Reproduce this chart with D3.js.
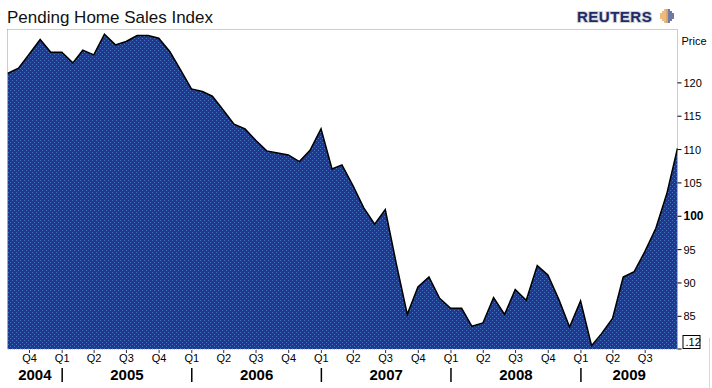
<!DOCTYPE html>
<html lang="en">
<head>
<meta charset="UTF-8">
<title>Pending Home Sales Index</title>
<script src="https://cdn.jsdelivr.net/npm/d3@7"></script>
<style>
  body { margin: 0; background: #fff; }
  svg { display: block; font-family: "Liberation Sans", Arial, sans-serif; }
</style>
</head>
<body>
<div id="chart"></div>
<script>
// monthly index, Jul 2004 .. Sep 2009
const months = [
  "2004-07","2004-08","2004-09","2004-10","2004-11","2004-12",
  "2005-01","2005-02","2005-03","2005-04","2005-05","2005-06","2005-07","2005-08","2005-09","2005-10","2005-11","2005-12",
  "2006-01","2006-02","2006-03","2006-04","2006-05","2006-06","2006-07","2006-08","2006-09","2006-10","2006-11","2006-12",
  "2007-01","2007-02","2007-03","2007-04","2007-05","2007-06","2007-07","2007-08","2007-09","2007-10","2007-11","2007-12",
  "2008-01","2008-02","2008-03","2008-04","2008-05","2008-06","2008-07","2008-08","2008-09","2008-10","2008-11","2008-12",
  "2009-01","2009-02","2009-03","2009-04","2009-05","2009-06","2009-07","2009-08","2009-09"
]
const values = [
  121.4, 122.2, 124.3, 126.5, 124.6, 124.6,
  123.0, 124.9, 124.2, 127.3, 125.7, 126.2, 127.1, 127.1, 126.7, 124.7, 122.0, 119.1,
  118.7, 118.0, 115.9, 113.8, 113.1, 111.4, 109.8, 109.5, 109.2, 108.2, 109.9, 113.1,
  107.1, 107.7, 104.6, 101.3, 98.8, 101.0, 92.9, 85.3, 89.4, 90.9, 87.7, 86.2,
  86.2, 83.5, 84.0, 87.8, 85.3, 89.0, 87.4, 92.6, 91.2, 87.5, 83.4, 87.3,
  80.6, 82.4, 84.7, 90.9, 91.7, 94.7, 98.2, 103.4, 110.2
]
const yTicks = [85, 90, 95, 100, 105, 110, 115, 120]
const quarterTicks = ["2004-10","2005-01","2005-04","2005-07","2005-10","2006-01","2006-04","2006-07","2006-10",
  "2007-01","2007-04","2007-07","2007-10","2008-01","2008-04","2008-07","2008-10","2009-01","2009-04","2009-07"]
const years = ["2004","2005","2006","2007","2008","2009"]
const lastLabel = ".12"

const w = 712, h = 388
const padL = 7.5, padR = 677.5, padT = 29.5, padB = 349

const parse = d3.timeParse("%Y-%m")
// points sit at the end of their month
const monthEnd = s => d3.timeDay.offset(d3.timeMonth.offset(parse(s), 1), -1)
const data = months.map((m, i) => ({ date: monthEnd(m), value: values[i] }))

const x = d3.scaleTime()
  .domain([monthEnd(months[0]), monthEnd(months[months.length - 1])])
  .range([padL, padR])
const y = d3.scaleLinear().domain([80.1, 128]).range([padB, padT])

const svg = d3.select("#chart").append("svg").attr("width", w).attr("height", h)

const defs = svg.append("defs")
const pat = defs.append("pattern").attr("id", "dots")
  .attr("width", 4).attr("height", 4).attr("patternUnits", "userSpaceOnUse")
pat.append("rect").attr("width", 4).attr("height", 4).attr("fill", "#2c3191")
pat.append("rect").attr("x", 0).attr("y", 0).attr("width", 1).attr("height", 1).attr("fill", "#3f7ab8")
pat.append("rect").attr("x", 2).attr("y", 2).attr("width", 1).attr("height", 1).attr("fill", "#3f7ab8")
defs.append("clipPath").attr("id", "plot")
  .append("rect").attr("x", padL).attr("y", padT).attr("width", padR - padL).attr("height", padB - padT)

// title + logo
svg.append("text").attr("x", 7).attr("y", 23)
  .style("font-size", "17px").attr("fill", "#111").text("Pending Home Sales Index")

svg.append("text").attr("x", 577).attr("y", 22)
  .style("font-size", "15px").style("font-weight", "bold").style("letter-spacing", "0.5px")
  .attr("fill", "#1d2b6b").attr("stroke", "#d4d4d4").attr("stroke-width", 2)
  .style("paint-order", "stroke").text("REUTERS")
const globe = svg.append("g").attr("transform", "translate(667,16)")
for (let gx = -6; gx <= 6; gx += 2) {
  for (let gy = -6; gy <= 6; gy += 2) {
    if (gx * gx + gy * gy > 40) continue
    globe.append("circle").attr("cx", gx).attr("cy", gy).attr("r", 0.9)
      .attr("fill", gx < 0 ? "#e69a3c" : (gx === 0 ? "#c77a2a" : "#2a3a7a"))
  }
}

// frame
svg.append("rect").attr("x", padL).attr("y", padT).attr("width", padR - padL).attr("height", padB - padT)
  .attr("fill", "none").attr("stroke", "#9a9a9a").attr("stroke-dasharray", "1,1")

// area + line
const g = svg.append("g").attr("clip-path", "url(#plot)")
g.append("path").datum(data)
  .attr("d", d3.area().x(d => x(d.date)).y0(padB).y1(d => y(d.value)))
  .attr("fill", "url(#dots)")
g.append("path").datum(data)
  .attr("d", d3.line().x(d => x(d.date)).y(d => y(d.value)))
  .attr("fill", "none").attr("stroke", "#000").attr("stroke-width", 1.5)

// right axis
const yAxis = svg.append("g").attr("transform", `translate(${padR},0)`)
yAxis.selectAll("line").data(yTicks).enter().append("line")
  .attr("x1", 0).attr("x2", 4).attr("y1", d => y(d)).attr("y2", d => y(d))
  .attr("stroke", "#000")
yAxis.selectAll("text").data(yTicks).enter().append("text")
  .attr("x", 6).attr("y", d => y(d) + 4)
  .style("font-size", d => d === 100 ? "12px" : "11px")
  .style("font-weight", d => d === 100 ? "bold" : "normal")
  .text(d => d)
yAxis.append("text").attr("x", 4).attr("y", 45).style("font-size", "11px").text("Price")
yAxis.append("line").attr("x1", 0).attr("x2", 4).attr("y1", padB).attr("y2", padB).attr("stroke", "#000")
yAxis.append("rect").attr("x", 5.5).attr("y", 335.5).attr("width", 17).attr("height", 13)
  .attr("fill", "#fff").attr("stroke", "#000")
yAxis.append("text").attr("x", 8).attr("y", 346).style("font-size", "11px").text(lastLabel)
svg.append("line").attr("x1", 709.5).attr("x2", 709.5).attr("y1", 338).attr("y2", 388)
  .attr("stroke", "#d8d8d8")

// bottom axis: quarters
const qDates = quarterTicks.map(parse)
const xAxis = svg.append("g")
xAxis.selectAll("line").data(qDates).enter().append("line")
  .attr("x1", d => x(d)).attr("x2", d => x(d)).attr("y1", padB + 1).attr("y2", padB + 4)
  .attr("stroke", "#333")
xAxis.selectAll("text").data(qDates).enter().append("text")
  .attr("x", d => x(d)).attr("y", 362).attr("text-anchor", "middle")
  .style("font-size", "11px")
  .text(d => "Q" + (Math.floor(d.getMonth() / 3) + 1))

// years
const yearStart = years.map(s => new Date(+s, 0, 1))
svg.selectAll(".sep").data(yearStart.slice(1)).enter().append("line")
  .attr("x1", d => x(d)).attr("x2", d => x(d)).attr("y1", 368).attr("y2", 382)
  .attr("stroke", "#000").attr("stroke-width", 1.5)
svg.selectAll(".yr").data(years).enter().append("text")
  .attr("x", (d, i) => {
    const a = Math.max(padL, x(yearStart[i]))
    const b = Math.min(padR, x(new Date(+d + 1, 0, 1)))
    return (a + b) / 2
  })
  .attr("y", 380).attr("text-anchor", "middle")
  .style("font-family", "'Liberation Sans Narrow', 'Arial Narrow', sans-serif")
  .style("font-size", "15px").style("font-weight", "bold")
  .text(d => d)
</script>
</body>
</html>
